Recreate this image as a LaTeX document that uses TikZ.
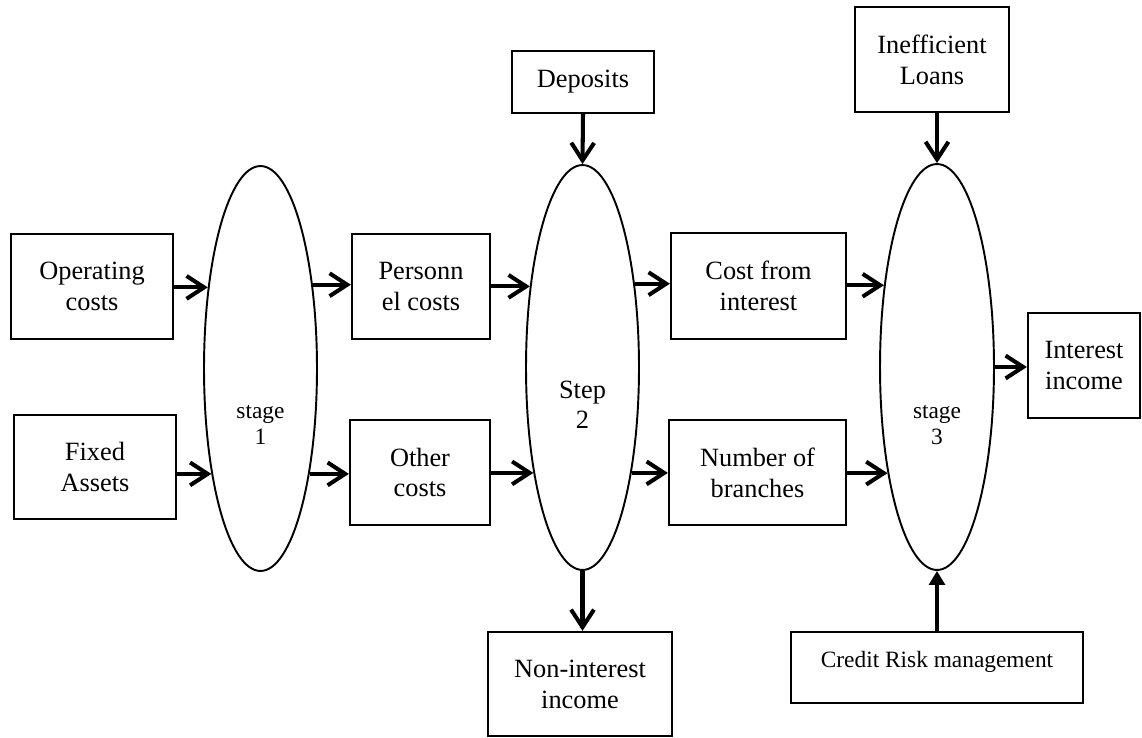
\documentclass[tikz,border=0pt]{standalone}
\usepackage{fontspec}
\setmainfont{Liberation Serif}
\usepackage{tikz}
\usetikzlibrary{calc, shapes.geometric, arrows.meta}

\begin{document}
\begin{tikzpicture}[x = 0.02cm, y = -0.02cm,
            box/.style = {draw, line width = 1.3pt, inner sep = 0pt, align = center, font = \fontsize{15}{17.6}\selectfont},
            stage/.style = {draw, ellipse, line width = 1.1pt, inner sep = 0pt, minimum width = 2.26cm, minimum height = 8.1cm},
            lbl/.style = {align = center, font = \fontsize{13.3}{14.7}\selectfont},
            arr/.style = {line width = 2.3pt, -{Straight Barb[length = 10pt, width = 13pt]}},
            uparr/.style = {line width = 2.8pt, -{Triangle[length = 8pt, width = 9pt]}}]
            \useasboundingbox (0,0) rectangle (1142,737);
            \node[box, minimum width = 3.24cm, minimum height = 2.1cm] (op) at (92,286.5) {Operating\\costs};
            \node[box, minimum width = 3.24cm, minimum height = 2.08cm] (fix) at (95,467) {Fixed\\Assets};
            \node[stage] (st1) at (260.5,368.5) {};
            \node[lbl] (lbl1) at (260.5,425) {stage\\1};
            \node[box, minimum width = 2.76cm, minimum height = 2.1cm] (pers) at (421,286.5) {Personn\\el costs};
            \node[box, minimum width = 2.8cm, minimum height = 2.1cm] (oth) at (420,472.5) {Other\\costs};
            \node[box, minimum width = 2.84cm, minimum height = 1.24cm] (dep) at (583,82) {Deposits};
            \node[stage] (st2) at (582.5,367.5) {};
            \node[box, font = \fontsize{15}{17}\selectfont, draw = none] (lbl2) at (582.5,405) {Step\\2};
            \node[box, minimum width = 3.68cm, minimum height = 2.08cm] (nonint) at (580,684) {Non-interest\\income};
            \node[box, minimum width = 3.5cm, minimum height = 2.12cm] (cost) at (758.5,286) {Cost from\\interest};
            \node[box, minimum width = 3.54cm, minimum height = 2.1cm] (nbr) at (757.5,472.5) {Number of\\branches};
            \node[box, minimum width = 3.08cm, minimum height = 2.1cm] (ineff) at (932,59.5) {Inefficient\\Loans};
            \node[stage, minimum width = 2.28cm, minimum height = 8.12cm] (st3) at (937,367) {};
            \node[lbl] (lbl3) at (937,425) {stage\\3};
            \node[box, minimum width = 2.24cm, minimum height = 2.1cm] (inc) at (1084,365.5) {Interest\\income};
            \node[box, font = \fontsize{13.3}{14.7}\selectfont, text height = 9pt, text depth = 9pt, minimum width = 5.84cm, minimum height = 1.42cm] (crm) at (937,667.5) {Credit Risk management};
            \draw[arr] (st1.123 -| op.east) -- (st1.123);
            \draw[arr] (st1.245 -| fix.east) -- (st1.245);
            \draw[arr] (st1.58) -- (st1.58 -| pers.west);
            \draw[arr] (st1.295) -- (st1.295 -| oth.west);
            \draw[arr] (st2.123 -| pers.east) -- (st2.123);
            \draw[arr] (st2.245 -| oth.east) -- (st2.245);
            \draw[arr] (st2.58) -- (st2.58 -| cost.west);
            \draw[arr] (st2.295) -- (st2.295 -| nbr.west);
            \draw[arr] (dep.south) -- (st2.north);
            \draw[arr] (st2.south) -- (st2.south |- nonint.north);
            \draw[arr] (st3.123 -| cost.east) -- (st3.123);
            \draw[arr] (st3.245 -| nbr.east) -- (st3.245);
            \draw[arr] (st3.east) -- (st3.east -| inc.west);
            \draw[arr] (st3.north |- ineff.south) -- (st3.north);
            \draw[uparr] (crm.north) -- (st3.south);
        \end{tikzpicture}
\end{document}
